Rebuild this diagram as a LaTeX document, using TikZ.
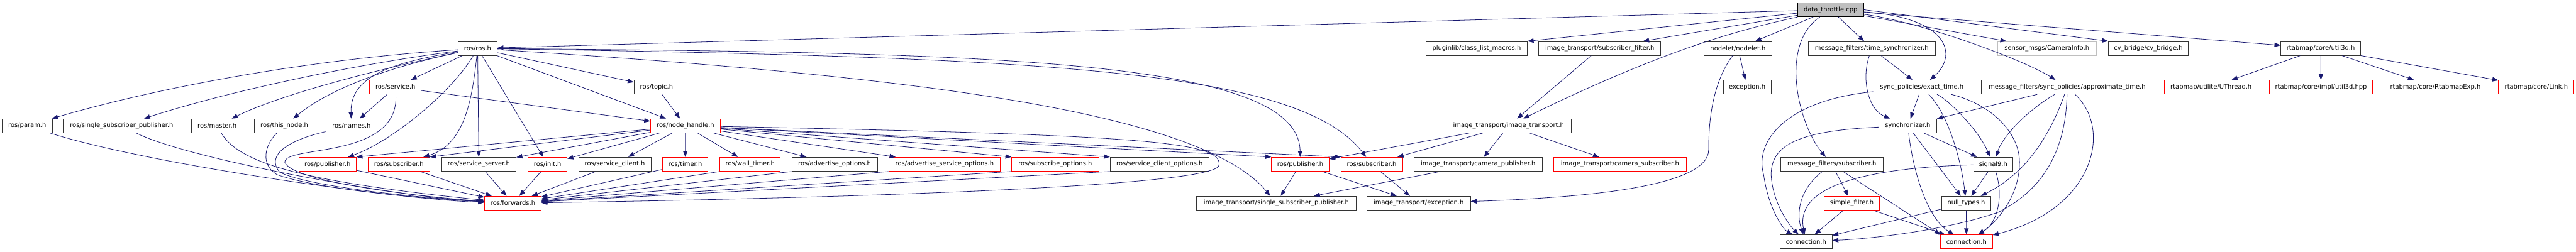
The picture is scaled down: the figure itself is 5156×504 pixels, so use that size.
\documentclass[tikz,border=0pt]{standalone}
\usepackage{fontspec}
\setmainfont{DejaVu Sans}
\usetikzlibrary{arrows.meta}
\definecolor{bleuarc}{HTML}{191970}
\definecolor{grisfond}{HTML}{BFBFBF}

\begin{document}
\begin{tikzpicture}[
    x=1pt, y=-1pt,  % une unité = un pixel, y vers le bas
    % Réglages des boîtes
    fich/.style={draw=black!80, line width=1.1pt, fill=white, inner sep=0pt,
        minimum height=28pt, font=\fontsize{12.5}{15}\selectfont},
    rouge/.style={fich, draw=red},
    gris/.style={fich, draw=grisfond},
    racine/.style={fich, draw=black, fill=grisfond},
    dep/.style={draw=bleuarc, line width=1pt, -{Triangle[length=12pt,width=9pt]}} % flèche au bout
]
\useasboundingbox (0,0) rectangle (5156,504);

% Racine
\node[racine, minimum width=132pt] (dt) at (3664,19.5) {data\_throttle.cpp};

% Niveau 1
\node[fich, minimum width=78pt] (ros) at (956,97) {ros/ros.h};
\node[fich, minimum width=203pt] (pluginlib) at (2955.5,97) {pluginlib/class\_list\_macros.h};
\node[fich, minimum width=244pt] (itsubfilter) at (3202,97) {image\_transport/subscriber\_filter.h};
\node[fich, minimum width=135pt] (nodelet) at (3478.5,97) {nodelet/nodelet.h};
\node[fich, minimum width=255pt] (timesync) at (3746.5,97) {message\_filters/time\_synchronizer.h};
\node[gris, minimum width=198pt] (caminfo) at (4097,97) {sensor\_msgs/CameraInfo.h};
\node[fich, minimum width=160pt] (cvbridge) at (4300,97) {cv\_bridge/cv\_bridge.h};
\node[fich, minimum width=160pt] (util3d) at (4645,97) {rtabmap/core/util3d.h};

% Niveau 2
\node[rouge, minimum width=103pt] (service) at (791.5,174.5) {ros/service.h};
\node[fich, minimum width=90pt] (topic) at (1314,174.5) {ros/topic.h};
\node[fich, minimum width=96pt] (exception) at (3497,174.5) {exception.h};
\node[fich, minimum width=193pt] (exacttime) at (3846.5,174.5) {sync\_policies/exact\_time.h};
\node[fich, minimum width=343pt] (approx) at (4137.5,174.5) {message\_filters/sync\_policies/approximate\_time.h};
\node[rouge, minimum width=187pt] (uthread) at (4425.5,174.5) {rtabmap/utilite/UThread.h};
\node[rouge, minimum width=207pt] (util3dhpp) at (4645.5,174.5) {rtabmap/core/impl/util3d.hpp};
\node[fich, minimum width=207pt] (rtabexp) at (4874.5,174.5) {rtabmap/core/RtabmapExp.h};
\node[rouge, minimum width=151pt] (link) at (5076.5,174.5) {rtabmap/core/Link.h};

% Niveau 3
\node[fich, minimum width=101pt] (param) at (54.5,252) {ros/param.h};
\node[fich, minimum width=233pt] (sspub) at (243.5,252) {ros/single\_subscriber\_publisher.h};
\node[fich, minimum width=103pt] (master) at (434.5,252) {ros/master.h};
\node[fich, minimum width=120pt] (thisnode) at (569,252) {ros/this\_node.h};
\node[fich, minimum width=103pt] (names) at (703.5,252) {ros/names.h};
\node[rouge, minimum width=140pt] (nodehandle) at (1372,252) {ros/node\_handle.h};
\node[fich, minimum width=251pt] (imagetransport) at (3019.5,252) {image\_transport/image\_transport.h};
\node[fich, minimum width=115pt] (synchronizer) at (3818.5,252) {synchronizer.h};

% Niveau 4
\node[rouge, minimum width=115pt] (publisher) at (655.5,329) {ros/publisher.h};
\node[rouge, minimum width=123pt] (subscriber) at (798.5,329) {ros/subscriber.h};
\node[fich, minimum width=149pt] (srvserver) at (958.5,329) {ros/service\_server.h};
\node[rouge, minimum width=78pt] (init) at (1096,329) {ros/init.h};
\node[fich, minimum width=145pt] (srvclient) at (1230.5,329) {ros/service\_client.h};
\node[rouge, minimum width=91pt] (timer) at (1371.5,329) {ros/timer.h};
\node[rouge, minimum width=121pt] (walltimer) at (1501.5,329) {ros/wall\_timer.h};
\node[fich, minimum width=171pt] (advopts) at (1670.5,329) {ros/advertise\_options.h};
\node[rouge, minimum width=223pt] (advsrvopts) at (1890.5,329) {ros/advertise\_service\_options.h};
\node[rouge, minimum width=174pt] (subopts) at (2112,329) {ros/subscribe\_options.h};
\node[fich, minimum width=198pt] (srvclientopts) at (2321,329) {ros/service\_client\_options.h};
\node[rouge, minimum width=115pt] (itpublisher) at (2602.5,329) {ros/publisher.h};
\node[rouge, minimum width=123pt] (itsubscriber) at (2745.5,329) {ros/subscriber.h};
\node[fich, minimum width=257pt] (campub) at (2958.5,329) {image\_transport/camera\_publisher.h};
\node[rouge, minimum width=265pt] (camsub) at (3242.5,329) {image\_transport/camera\_subscriber.h};
\node[fich, minimum width=205pt] (mfsubscriber) at (3666.5,329) {message\_filters/subscriber.h};
\node[fich, minimum width=79pt] (signal9) at (3989.5,329) {signal9.h};

% Niveau 5
\node[rouge, minimum width=113pt] (forwards) at (1026.5,407) {ros/forwards.h};
\node[fich, minimum width=319pt] (itsspub) at (2554.5,407) {image\_transport/single\_subscriber\_publisher.h};
\node[fich, minimum width=207pt] (itexception) at (2839.5,407) {image\_transport/exception.h};
\node[rouge, minimum width=111pt] (simplefilter) at (3706.5,407) {simple\_filter.h};
\node[fich, minimum width=99pt] (nulltypes) at (3935.5,407) {null\_types.h};

% Niveau 6
\node[fich, minimum width=104pt] (connection) at (3615,484) {connection.h};
\node[rouge, minimum width=104pt] (connectionred) at (3936,484) {connection.h};

% Arcs depuis la racine
\draw[dep] (dt) -- (ros);
\draw[dep] (dt) -- (pluginlib.north east);
\draw[dep] (dt) -- (itsubfilter);
\draw[dep] (dt) .. controls (3480,60) and (3330,100) .. (imagetransport);
\draw[dep] (dt) -- (nodelet);
\draw[dep] (dt) .. controls (3560,90) and (3600,250) .. (mfsubscriber);
\draw[dep] (dt) -- (timesync);
\draw[dep] (dt) .. controls (3900,35) and (3920,110) .. (exacttime);
\draw[dep] (dt) .. controls (3850,45) and (4050,120) .. (approx);
\draw[dep] (dt) -- (caminfo);
\draw[dep] (dt.east) -- (cvbridge.north west);
\draw[dep] (dt) -- (util3d);

% ros/ros.h
\draw[dep] (ros) .. controls (600,120) and (300,180) .. (param);
\draw[dep] (ros) .. controls (700,130) and (450,185) .. (sspub);
\draw[dep] (ros) .. controls (750,140) and (560,190) .. (master);
\draw[dep] (ros) .. controls (800,130) and (670,170) .. (thisnode);
\draw[dep] (ros) .. controls (790,125) and (700,150) .. (names);
\draw[dep] (ros) -- (service);
\draw[dep] (ros) .. controls (900,190) and (780,285) .. (publisher);
\draw[dep] (ros) .. controls (945,200) and (930,290) .. (subscriber);
\draw[dep] (ros) -- (srvserver);
\draw[dep] (ros) -- (init);
\draw[dep] (ros) -- (topic);
\draw[dep] (ros) -- (nodehandle);
\draw[dep] (ros) .. controls (2000,105) and (2600,120) .. (itpublisher);
\draw[dep] (ros) .. controls (2100,115) and (2600,140) .. (itsubscriber);
\draw[dep] (ros) .. controls (1800,150) and (2400,220) .. (itsspub);

% ros/service.h et ros/topic.h
\draw[dep] (service) -- (names);
\draw[dep] (service) -- (nodehandle);
\draw[dep] (service) .. controls (800,320) and (570,290) .. (570,325)
    .. controls (585,365) and (850,395) .. (forwards);
\draw[dep] (topic) -- (nodehandle);

% vers ros/forwards.h
\draw[dep] (param) .. controls (300,330) and (800,400) .. (forwards);
\draw[dep] (sspub) .. controls (380,320) and (800,395) .. (forwards);
\draw[dep] (master) .. controls (480,330) and (620,365) .. (forwards);
\draw[dep] (thisnode) .. controls (530,290) and (520,330) .. (555,350)
    .. controls (640,380) and (850,398) .. (forwards);
\draw[dep] (names) .. controls (580,280) and (530,310) .. (560,345)
    .. controls (620,375) and (850,397) .. (forwards);
\draw[dep] (publisher) -- (forwards);
\draw[dep] (subscriber) -- (forwards);
\draw[dep] (srvserver) -- (forwards);
\draw[dep] (init) -- (forwards);
\draw[dep] (srvclient) -- (forwards);
\draw[dep] (timer) -- (forwards);
\draw[dep] (walltimer.south west) -- (forwards);
\draw[dep] (advopts.south west) -- (forwards);
\draw[dep] (advsrvopts.south west) -- (forwards);
\draw[dep] (subopts.south west) -- (forwards);
\draw[dep] (srvclientopts.south west) -- (forwards);

% ros/node_handle.h
\draw[dep] (nodehandle) -- (publisher.north east);
\draw[dep] (nodehandle) -- (subscriber.north east);
\draw[dep] (nodehandle) -- (srvserver);
\draw[dep] (nodehandle) -- (init);
\draw[dep] (nodehandle) -- (srvclient);
\draw[dep] (nodehandle) -- (timer);
\draw[dep] (nodehandle) -- (walltimer);
\draw[dep] (nodehandle) -- (advopts);
\draw[dep] (nodehandle) -- (advsrvopts);
\draw[dep] (nodehandle) -- (subopts.north west);
\draw[dep] (nodehandle) -- (srvclientopts.north west);
\draw[dep] (nodehandle) -- (itpublisher.north west);
\draw[dep] (nodehandle) -- (itsubscriber.north west);
\draw[dep] (nodehandle) .. controls (2300,270) and (2445,285) .. (2440,330)
    .. controls (2445,370) and (1800,395) .. (forwards);

% image_transport
\draw[dep] (itsubfilter) -- (imagetransport);
\draw[dep] (imagetransport) -- (itpublisher);
\draw[dep] (imagetransport) -- (itsubscriber);
\draw[dep] (imagetransport) -- (campub);
\draw[dep] (imagetransport) -- (camsub);
\draw[dep] (itpublisher) -- (itsspub);
\draw[dep] (itpublisher) -- (itexception);
\draw[dep] (itsubscriber) -- (itexception);
\draw[dep] (campub) -- (itsspub);

% nodelet
\draw[dep] (nodelet) -- (exception);
\draw[dep] (nodelet) .. controls (3425,170) and (3420,250) .. (3420,300)
    .. controls (3420,370) and (3200,395) .. (itexception);

% message_filters
\draw[dep] (timesync) .. controls (3725,160) and (3740,220) .. (synchronizer);
\draw[dep] (timesync) -- (exacttime);
\draw[dep] (exacttime) -- (synchronizer);
\draw[dep] (exacttime) .. controls (3580,200) and (3510,280) .. (3530,350)
    .. controls (3540,420) and (3570,460) .. (connection);
\draw[dep] (exacttime) .. controls (3900,200) and (3960,260) .. (signal9);
\draw[dep] (exacttime) .. controls (3900,230) and (3925,320) .. (nulltypes);
\draw[dep] (exacttime) .. controls (3990,210) and (4045,270) .. (4042,330)
    .. controls (4040,400) and (3990,450) .. (connectionred);
\draw[dep] (synchronizer) .. controls (3600,262) and (3545,290) .. (3545,350)
    .. controls (3548,410) and (3585,455) .. (connection);
\draw[dep] (synchronizer) -- (signal9);
\draw[dep] (synchronizer) -- (nulltypes);
\draw[dep] (synchronizer) .. controls (3830,350) and (3860,440) .. (connectionred);
\draw[dep] (approx) -- (synchronizer);
\draw[dep] (approx) .. controls (4060,220) and (4010,270) .. (signal9);
\draw[dep] (approx) .. controls (4100,280) and (4050,350) .. (nulltypes);
\draw[dep] (approx) .. controls (4135,300) and (4090,380) .. (4000,425)
    .. controls (3900,460) and (3750,478) .. (connection);
\draw[dep] (approx) .. controls (4230,260) and (4190,420) .. (connectionred);
\draw[dep] (signal9) -- (nulltypes);
\draw[dep] (signal9) .. controls (4010,390) and (4000,445) .. (connectionred);
\draw[dep] (signal9) .. controls (3780,335) and (3590,360) .. (connection);
\draw[dep] (nulltypes) -- (connectionred);
\draw[dep] (nulltypes) -- (connection);
\draw[dep] (mfsubscriber) .. controls (3600,380) and (3595,430) .. (connection);
\draw[dep] (mfsubscriber) -- (simplefilter);
\draw[dep] (mfsubscriber) -- (connectionred.north west);
\draw[dep] (simplefilter) -- (connection);
\draw[dep] (simplefilter) -- (connectionred);

% rtabmap
\draw[dep] (util3d) -- (uthread);
\draw[dep] (util3d) -- (util3dhpp);
\draw[dep] (util3d) -- (rtabexp);
\draw[dep] (util3d) -- (link);
\end{tikzpicture}
\end{document}
